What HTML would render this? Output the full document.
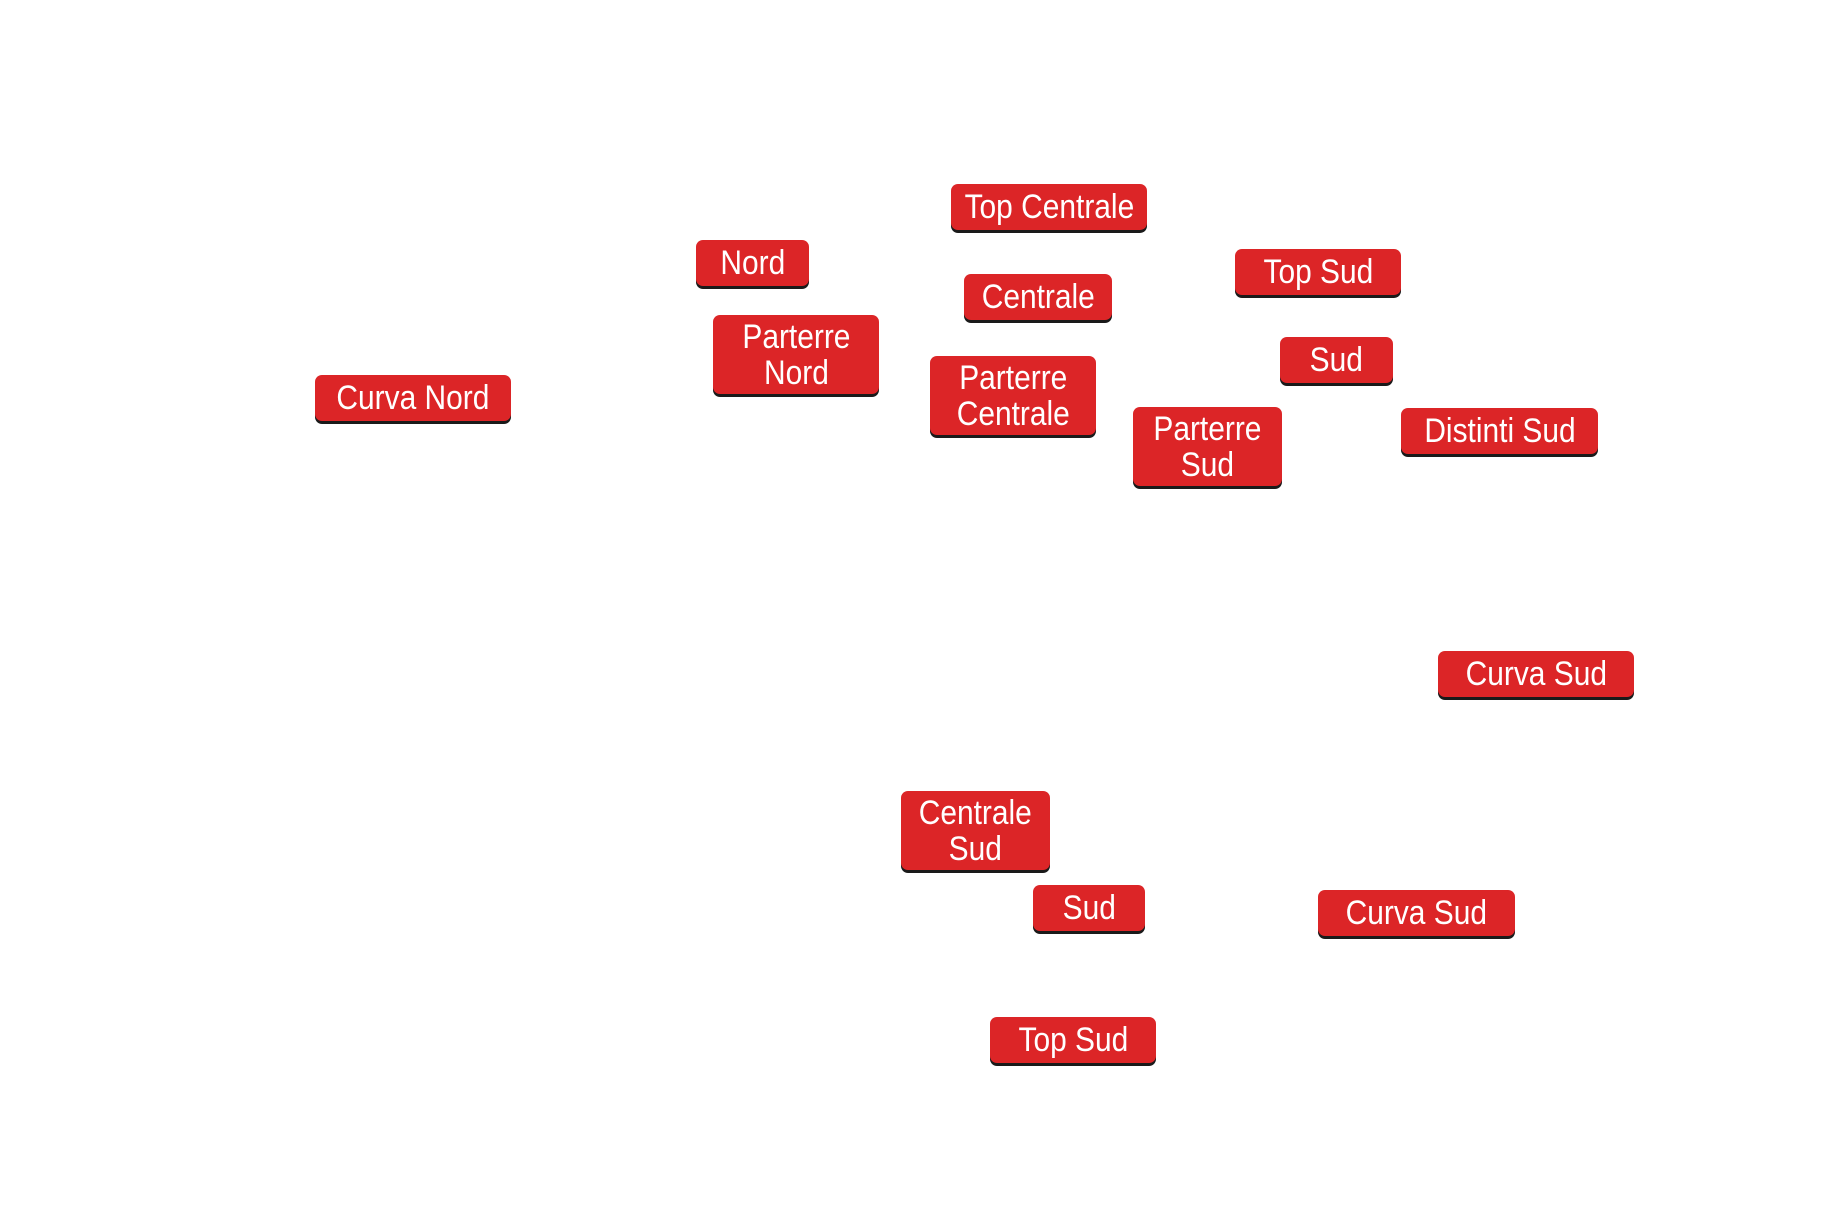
<!DOCTYPE html>
<html><head><meta charset="utf-8"><style>
html,body{margin:0;padding:0;background:#fff;}
body{width:1846px;height:1222px;position:relative;overflow:hidden;}
.b{position:absolute;background:#dc2527;border-radius:7px;box-shadow:0 3px 0 #1a1a1a;color:#fff;
font-family:"Liberation Sans",sans-serif;font-size:34px;line-height:36px;
display:flex;align-items:center;justify-content:center;text-align:center;box-sizing:border-box;}
.b span{display:inline-block;transform:scaleX(.88);white-space:nowrap;}
</style></head><body>
<div class="b" style="left:951px;top:184px;width:196px;height:46px"><span>Top Centrale</span></div>
<div class="b" style="left:696px;top:240px;width:113px;height:46px"><span>Nord</span></div>
<div class="b" style="left:964px;top:274px;width:148px;height:46px"><span>Centrale</span></div>
<div class="b" style="left:1235px;top:249px;width:166px;height:46px"><span>Top Sud</span></div>
<div class="b" style="left:713px;top:315px;width:166px;height:79px"><span>Parterre<br>Nord</span></div>
<div class="b" style="left:1280px;top:337px;width:113px;height:46px"><span>Sud</span></div>
<div class="b" style="left:930px;top:356px;width:166px;height:79px"><span>Parterre<br>Centrale</span></div>
<div class="b" style="left:315px;top:375px;width:196px;height:46px"><span>Curva Nord</span></div>
<div class="b" style="left:1133px;top:407px;width:149px;height:79px"><span>Parterre<br>Sud</span></div>
<div class="b" style="left:1401px;top:408px;width:197px;height:46px"><span>Distinti Sud</span></div>
<div class="b" style="left:1438px;top:651px;width:196px;height:46px"><span>Curva Sud</span></div>
<div class="b" style="left:901px;top:791px;width:149px;height:79px"><span>Centrale<br>Sud</span></div>
<div class="b" style="left:1033px;top:885px;width:112px;height:46px"><span>Sud</span></div>
<div class="b" style="left:1318px;top:890px;width:197px;height:46px"><span>Curva Sud</span></div>
<div class="b" style="left:990px;top:1017px;width:166px;height:46px"><span>Top Sud</span></div>
</body></html>
